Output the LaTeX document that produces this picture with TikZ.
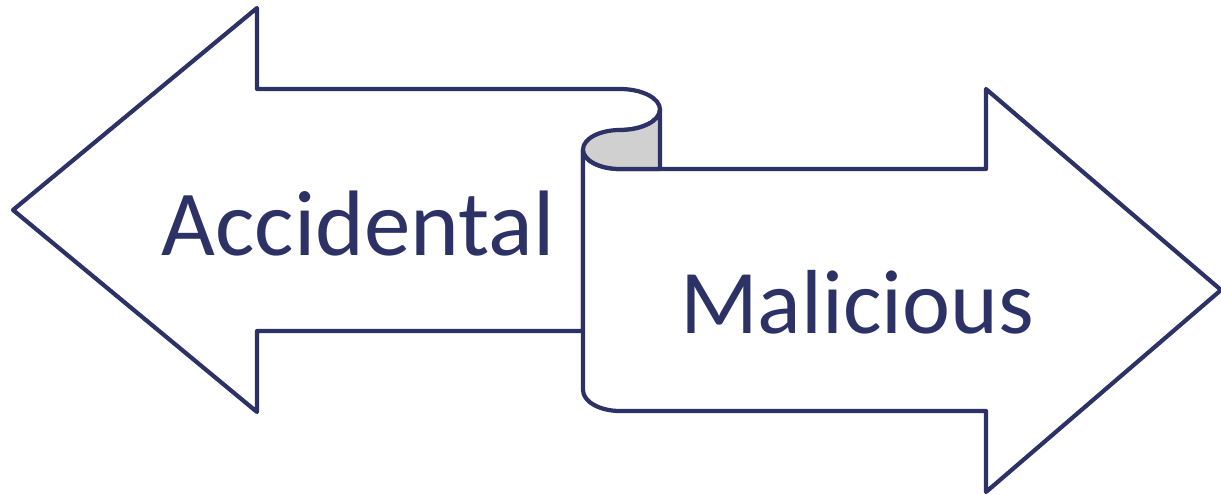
\documentclass[tikz,border=0pt]{standalone}
\usepackage{fontspec}
\setmainfont{Carlito}
\definecolor{navy}{RGB}{44,50,102}
\definecolor{curl}{RGB}{208,208,208}
\begin{document}
\begin{tikzpicture}[x=1pt,y=-1pt,
  outline/.style={draw=navy,line width=4.2pt,line join=round,fill=white},
  label/.style={text=navy,font=\fontsize{93}{100}\selectfont,anchor=base,inner sep=0pt}]
\useasboundingbox (0,0) rectangle (1221,495);
% left arrow
\draw[outline] (13,210) -- (257,8) -- (257,89) -- (620,89)
  arc[start angle=-90,end angle=90,x radius=40,y radius=20.5]
  -- (583,150) -- (583,331) -- (257,331) -- (257,412) -- cycle;
% right arrow with scroll
\draw[outline] (583,150) -- (583,390)
  arc[start angle=180,end angle=90,x radius=37,y radius=21]
  -- (986,411) -- (986,492) -- (1221,290) -- (986,89) -- (986,169) -- (620,169)
  arc[start angle=90,end angle=180,x radius=37,y radius=19] -- cycle;
% curl
\draw[outline,fill=curl] (660,109.5)
  arc[start angle=0,end angle=90,x radius=40,y radius=20.5]
  arc[start angle=270,end angle=90,x radius=37,y radius=19.5]
  -- (660,169) -- cycle;
\node[label] (acc) at (358,255) {Accidental};
\node[label] (mal) at (857,333) {\fontsize{91}{100}\selectfont Malicious};
\end{tikzpicture}
\end{document}
